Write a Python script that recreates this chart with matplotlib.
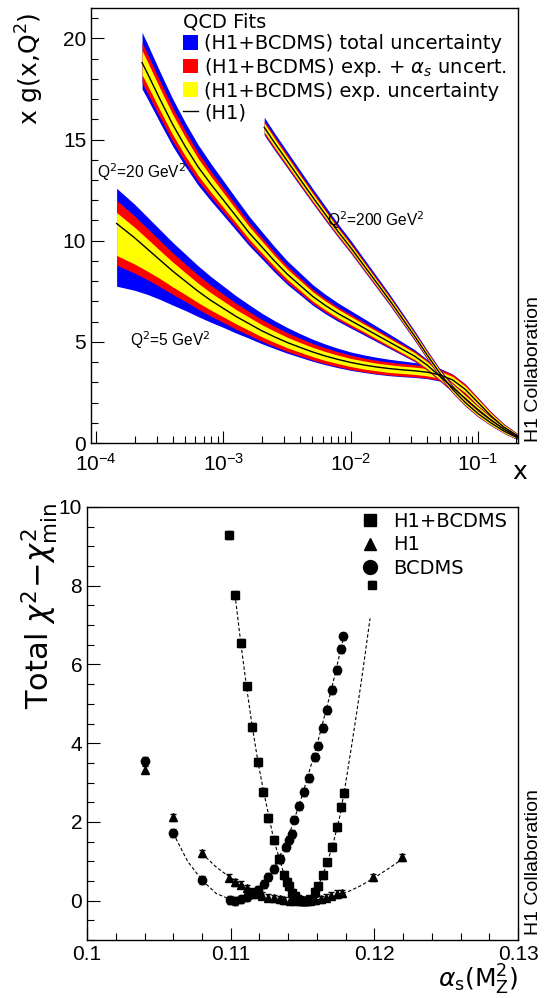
import numpy as np
import matplotlib.pyplot as plt
from matplotlib.patches import Patch
from matplotlib.lines import Line2D
from matplotlib.ticker import MultipleLocator, LogLocator, NullFormatter

plt.rcParams['font.family'] = ['Liberation Sans', 'DejaVu Sans']

# ---- top panel: x g(x,Q^2) bands, x given as log10(x) ----
q5_logx = [-3.84, -3.7, -3.6, -3.5, -3.4, -3.3, -3.2, -3.1, -3.0, -2.9, -2.8, -2.7, -2.6,
           -2.5, -2.4, -2.3, -2.2, -2.1, -2.0, -1.9, -1.8, -1.7, -1.6, -1.5, -1.4, -1.3,
           -1.2, -1.1, -1.0, -0.9, -0.8, -0.69]
q5_c = [10.85, 10.15, 9.6, 9.05, 8.5, 8.0, 7.5, 7.05, 6.65, 6.25, 5.9, 5.55, 5.25,
        4.97, 4.73, 4.5, 4.3, 4.13, 3.98, 3.86, 3.76, 3.68, 3.62, 3.57, 3.5, 3.37,
        3.12, 2.65, 2.0, 1.35, 0.8, 0.35]
q5_exp_lo = [1.58, 1.3, 1.1, 0.92, 0.78, 0.66, 0.56, 0.48, 0.42, 0.37, 0.33, 0.3, 0.28,
             0.26, 0.24, 0.23, 0.22, 0.21, 0.2, 0.2, 0.19, 0.19, 0.18, 0.18, 0.18, 0.17,
             0.17, 0.16, 0.15, 0.13, 0.11, 0.08]
q5_exp_hi = [0.54, 0.52, 0.5, 0.47, 0.45, 0.42, 0.4, 0.38, 0.36, 0.34, 0.32, 0.3, 0.28,
             0.26, 0.24, 0.23, 0.22, 0.21, 0.2, 0.2, 0.19, 0.19, 0.18, 0.18, 0.18, 0.17,
             0.17, 0.16, 0.15, 0.13, 0.11, 0.08]
q5_as_lo = [2.06, 1.75, 1.52, 1.32, 1.15, 1.0, 0.88, 0.78, 0.7, 0.63, 0.57, 0.52, 0.48,
            0.45, 0.42, 0.4, 0.38, 0.36, 0.35, 0.34, 0.33, 0.32, 0.31, 0.3, 0.29, 0.28,
            0.27, 0.25, 0.22, 0.19, 0.15, 0.11]
q5_as_hi = [1.14, 1.08, 1.02, 0.96, 0.9, 0.85, 0.8, 0.75, 0.7, 0.65, 0.6, 0.56, 0.52,
            0.48, 0.45, 0.42, 0.4, 0.38, 0.36, 0.34, 0.33, 0.32, 0.31, 0.3, 0.29, 0.28,
            0.27, 0.25, 0.22, 0.19, 0.15, 0.11]
q5_tot_lo = [3.1, 2.6, 2.25, 1.95, 1.68, 1.45, 1.25, 1.08, 0.94, 0.82, 0.72, 0.64, 0.58,
             0.53, 0.49, 0.46, 0.43, 0.41, 0.39, 0.37, 0.36, 0.35, 0.34, 0.33, 0.32, 0.31,
             0.29, 0.27, 0.24, 0.21, 0.17, 0.12]
q5_tot_hi = [1.74, 1.66, 1.58, 1.5, 1.42, 1.34, 1.26, 1.18, 1.1, 1.02, 0.94, 0.87, 0.8,
             0.74, 0.68, 0.63, 0.59, 0.55, 0.52, 0.5, 0.48, 0.46, 0.44, 0.41, 0.36, 0.32,
             0.29, 0.27, 0.24, 0.21, 0.17, 0.12]

q20_logx = [-3.64, -3.6, -3.5, -3.4, -3.3, -3.2, -3.1, -3.0, -2.9, -2.8, -2.7, -2.6, -2.5,
            -2.4, -2.3, -2.2, -2.1, -2.0, -1.9, -1.8, -1.7, -1.6, -1.5, -1.4, -1.3, -1.2,
            -1.1, -1.0, -0.9, -0.8, -0.69]
q20_c = [18.8, 18.3, 17.0, 15.75, 14.65, 13.65, 12.8, 12.0, 11.2, 10.4, 9.7, 9.0, 8.35,
         7.8, 7.25, 6.8, 6.4, 6.05, 5.7, 5.35, 5.0, 4.65, 4.3, 3.85, 3.3, 2.75,
         2.2, 1.65, 1.15, 0.7, 0.3]
q20_exp = [0.6, 0.58, 0.54, 0.5, 0.46, 0.42, 0.39, 0.36, 0.33, 0.31, 0.29, 0.27, 0.25,
           0.24, 0.23, 0.22, 0.21, 0.2, 0.19, 0.19, 0.18, 0.18, 0.17, 0.17, 0.16, 0.16,
           0.15, 0.14, 0.12, 0.1, 0.07]
q20_as = [1.0, 0.97, 0.9, 0.83, 0.76, 0.7, 0.64, 0.59, 0.54, 0.5, 0.46, 0.43, 0.4,
          0.37, 0.35, 0.33, 0.31, 0.3, 0.28, 0.27, 0.26, 0.25, 0.24, 0.23, 0.22, 0.21,
          0.2, 0.18, 0.15, 0.12, 0.09]
q20_tot_lo = [1.3, 1.26, 1.16, 1.07, 0.98, 0.9, 0.83, 0.76, 0.7, 0.64, 0.59, 0.55, 0.51,
              0.47, 0.44, 0.41, 0.39, 0.37, 0.35, 0.33, 0.31, 0.29, 0.27, 0.25, 0.24, 0.23,
              0.22, 0.2, 0.17, 0.13, 0.1]
q20_tot_hi = [1.5, 1.46, 1.36, 1.27, 1.18, 1.1, 1.02, 0.95, 0.88, 0.82, 0.76, 0.71, 0.66,
              0.62, 0.58, 0.55, 0.52, 0.49, 0.46, 0.43, 0.4, 0.36, 0.32, 0.28, 0.25, 0.23,
              0.22, 0.2, 0.17, 0.13, 0.1]

q200_logx = [-2.68, -2.6, -2.5, -2.4, -2.3, -2.2, -2.1, -2.0, -1.9, -1.8, -1.7, -1.6,
             -1.5, -1.4, -1.3, -1.2, -1.1, -1.0, -0.9, -0.8, -0.69]
q200_c = [15.6, 14.85, 13.95, 13.05, 12.16, 11.3, 10.45, 9.65, 8.8, 7.95, 7.1, 6.2,
          5.3, 4.35, 3.45, 2.65, 2.0, 1.45, 1.0, 0.6, 0.25]
q200_exp = [0.22, 0.21, 0.2, 0.19, 0.18, 0.17, 0.16, 0.15, 0.15, 0.14, 0.14, 0.14,
            0.13, 0.13, 0.13, 0.13, 0.12, 0.11, 0.1, 0.08, 0.06]
q200_as = [0.32, 0.31, 0.3, 0.28, 0.27, 0.25, 0.24, 0.23, 0.22, 0.21, 0.2, 0.19,
           0.18, 0.18, 0.17, 0.17, 0.16, 0.14, 0.12, 0.1, 0.08]
q200_tot_lo = [0.38, 0.37, 0.35, 0.33, 0.31, 0.3, 0.28, 0.27, 0.26, 0.25, 0.24, 0.23,
               0.22, 0.21, 0.2, 0.19, 0.18, 0.16, 0.14, 0.11, 0.09]
q200_tot_hi = [0.5, 0.48, 0.46, 0.44, 0.42, 0.4, 0.38, 0.36, 0.34, 0.32, 0.3, 0.28,
               0.26, 0.24, 0.22, 0.2, 0.19, 0.17, 0.14, 0.11, 0.09]

# ---- bottom panel: chi2 scans ----
comb_x = [0.10987, 0.11031, 0.1107, 0.1111, 0.1115, 0.1119, 0.11226, 0.11263, 0.11298,
          0.11336, 0.11368, 0.11392, 0.11408, 0.1143, 0.11445, 0.11461, 0.11478, 0.11496,
          0.11513, 0.1153, 0.1155, 0.11584, 0.11607, 0.11642, 0.1167, 0.11707, 0.11738,
          0.11768, 0.11787, 0.11986]
comb_y = [9.28, 7.77, 6.55, 5.44, 4.42, 3.52, 2.77, 2.1, 1.53,
          1.06, 0.66, 0.48, 0.36, 0.2, 0.12, 0.05, 0.02, 0.0,
          0.0, 0.0, 0.03, 0.21, 0.36, 0.64, 0.97, 1.37, 1.86,
          2.39, 2.73, 8.03]

h1_x = [0.104, 0.106, 0.108, 0.1099, 0.1103, 0.1107, 0.1111, 0.1115, 0.1119, 0.1122,
        0.1126, 0.1130, 0.1134, 0.1137, 0.1141, 0.1144, 0.1148, 0.1151, 0.1155, 0.1159,
        0.1163, 0.1166, 0.1170, 0.1174, 0.11775, 0.1199, 0.1219]
h1_y = [3.32, 2.12, 1.2, 0.58, 0.47, 0.4, 0.31, 0.23, 0.17, 0.12,
        0.08, 0.06, 0.03, 0.01, 0.0, 0.0, 0.0, 0.0, 0.0, 0.01,
        0.03, 0.07, 0.12, 0.17, 0.19, 0.59, 1.1]

bcdms_x = [0.104, 0.106, 0.108, 0.10992, 0.1103, 0.1107, 0.1111, 0.1115, 0.1119, 0.1123,
           0.1126, 0.1130, 0.1134, 0.11385, 0.11408, 0.11424, 0.11438, 0.11475, 0.1151,
           0.11542, 0.11589, 0.11607, 0.11642, 0.11672, 0.11707, 0.11738, 0.1177, 0.11784]
bcdms_y = [3.55, 1.71, 0.52, 0.02, 0.0, 0.03, 0.09, 0.18, 0.28, 0.42,
           0.61, 0.81, 1.06, 1.36, 1.55, 1.69, 2.06, 2.4, 2.76,
           3.12, 3.65, 3.94, 4.38, 4.85, 5.34, 5.86, 6.39, 6.71]

fit_comb_x = [0.1103, 0.1107, 0.1111, 0.1115, 0.1119, 0.1123, 0.1127, 0.1130, 0.1134, 0.1137,
              0.1141, 0.1144, 0.1148, 0.1152, 0.1156, 0.1160, 0.1164, 0.1168, 0.1172, 0.1176,
              0.1180, 0.1184, 0.1188, 0.1192, 0.1197]
fit_comb_y = [7.77, 6.55, 5.44, 4.42, 3.52, 2.75, 2.08, 1.53, 1.06, 0.68,
              0.38, 0.16, 0.03, 0.0, 0.06, 0.3, 0.64, 1.05, 1.55, 2.15,
              2.98, 3.9, 4.85, 5.85, 7.17]
fit_h1_x = [0.108, 0.109, 0.110, 0.111, 0.112, 0.113, 0.114, 0.115, 0.116, 0.117,
            0.118, 0.119, 0.120, 0.121, 0.122]
fit_h1_y = [1.2, 0.85, 0.58, 0.37, 0.2, 0.08, 0.02, 0.0, 0.02, 0.08,
            0.2, 0.37, 0.58, 0.82, 1.07]
fit_bcdms_x = [0.106, 0.107, 0.108, 0.109, 0.110, 0.1104, 0.111, 0.112, 0.113, 0.114,
               0.115, 0.116, 0.117, 0.1178]
fit_bcdms_y = [1.71, 1.0, 0.52, 0.18, 0.03, 0.0, 0.07, 0.3, 0.8, 1.6,
               2.7, 3.95, 5.35, 6.6]

BLUE, RED, YEL = '#0000ff', '#ff0000', '#ffff00'

fig = plt.figure(figsize=(5.44, 9.98), dpi=100)
ax1 = fig.add_axes([0.1673, 0.5561, 0.7849, 0.4359])
ax2 = fig.add_axes([0.16, 0.0581, 0.7923, 0.4339])


def draw_band(ax, logx, c, exp_lo, exp_hi, as_lo, as_hi, tot_lo, tot_hi):
    x = 10 ** np.asarray(logx)
    c = np.asarray(c)
    ax.fill_between(x, c - np.asarray(tot_lo), c + np.asarray(tot_hi), color=BLUE, lw=0)
    ax.fill_between(x, c - np.asarray(as_lo), c + np.asarray(as_hi), color=RED, lw=0)
    ax.fill_between(x, c - np.asarray(exp_lo), c + np.asarray(exp_hi), color=YEL, lw=0)
    ax.plot(x, c, color='black', lw=1.0)


draw_band(ax1, q5_logx, q5_c, q5_exp_lo, q5_exp_hi, q5_as_lo, q5_as_hi, q5_tot_lo, q5_tot_hi)
draw_band(ax1, q20_logx, q20_c, q20_exp, q20_exp, q20_as, q20_as, q20_tot_lo, q20_tot_hi)
draw_band(ax1, q200_logx, q200_c, q200_exp, q200_exp, q200_as, q200_as, q200_tot_lo, q200_tot_hi)

ax1.set_xscale('log')
ax1.set_xlim(9.1e-5, 0.206)
ax1.set_ylim(0, 21.5)
ax1.yaxis.set_major_locator(MultipleLocator(5))
ax1.yaxis.set_minor_locator(MultipleLocator(1))
ax1.xaxis.set_major_locator(LogLocator(base=10, numticks=10))
ax1.xaxis.set_minor_locator(LogLocator(base=10, subs=np.arange(2, 10), numticks=20))
ax1.xaxis.set_minor_formatter(NullFormatter())

ax1.text(1.02e-4, 13.4, r'Q$^2$=20 GeV$^2$', fontsize=11.2, va='center')
ax1.text(1.85e-4, 5.1, r'Q$^2$=5 GeV$^2$', fontsize=11.2, va='center')
ax1.text(6.5e-3, 11.0, r'Q$^2$=200 GeV$^2$', fontsize=11.2, va='center')

handles = [Patch(facecolor=BLUE, edgecolor='none'),
           Patch(facecolor=RED, edgecolor='none'),
           Patch(facecolor=YEL, edgecolor='none'),
           Line2D([], [], color='black', lw=1)]
labels = ['(H1+BCDMS) total uncertainty',
          r'(H1+BCDMS) exp. + $\alpha_s$ uncert.',
          '(H1+BCDMS) exp. uncertainty',
          '(H1)']
leg = ax1.legend(handles, labels, title='QCD Fits', loc='upper left',
                 bbox_to_anchor=(0.215, 0.99), frameon=False,
                 prop={'family': 'DejaVu Sans', 'size': 14},
                 title_fontproperties={'family': 'DejaVu Sans', 'size': 14},
                 handlelength=0.8, handleheight=0.8,
                 handletextpad=0.3, labelspacing=0.14, borderpad=0,
                 borderaxespad=0, alignment='left')

# ---- bottom ----
ax2.plot(fit_comb_x, fit_comb_y, ls=(0, (3, 2)), color='black', lw=0.8)
ax2.plot(fit_h1_x, fit_h1_y, ls=(0, (3, 2)), color='black', lw=0.8)
ax2.plot(fit_bcdms_x, fit_bcdms_y, ls=(0, (3, 2)), color='black', lw=0.8)

eb = dict(color='black', ls='none', capsize=2.3, elinewidth=1, capthick=1)
ax2.errorbar(h1_x, h1_y, yerr=0.09, marker='^', ms=5.5, **eb)
ax2.errorbar(bcdms_x, bcdms_y, yerr=0.1, marker='o', ms=6, **eb)
ax2.errorbar(comb_x, comb_y, yerr=0.1, marker='s', ms=6, **eb)

ax2.set_xlim(0.1, 0.13)
ax2.set_ylim(-1, 10)
ax2.set_xticks([0.1, 0.11, 0.12, 0.13], labels=['0.1', '0.11', '0.12', '0.13'])
ax2.xaxis.set_minor_locator(MultipleLocator(0.002))
ax2.yaxis.set_major_locator(MultipleLocator(2))
ax2.yaxis.set_minor_locator(MultipleLocator(0.5))

leg_handles = [Line2D([], [], ls='none', marker='s', color='black', ms=9),
               Line2D([], [], ls='none', marker='^', color='black', ms=8),
               Line2D([], [], ls='none', marker='o', color='black', ms=10)]
ax2.legend(leg_handles, ['H1+BCDMS', 'H1', 'BCDMS'], loc='upper left',
           bbox_to_anchor=(0.63, 0.988), frameon=False,
           prop={'family': 'DejaVu Sans', 'size': 14},
           handlelength=1.2, handletextpad=0.6, labelspacing=0.22,
           borderpad=0, borderaxespad=0)

for ax in (ax1, ax2):
    ax.tick_params(which='both', direction='in', top=False, right=False,
                   labelsize=15, width=0.8)
    ax.tick_params(which='major', length=9)
    ax.tick_params(which='minor', length=5)
    for s in ax.spines.values():
        s.set_linewidth(1.0)
ax1.tick_params(axis='x', pad=7)

fig.text(30 / 544, 1 - 13 / 998, r'x g(x,Q$^2$)', rotation=90, ha='center', va='top',
         fontsize=18, family='DejaVu Sans')
fig.text(520 / 544, 1 - 472 / 998, 'x', ha='center', va='center', fontsize=18,
         family='DejaVu Sans')
fig.text(40 / 544, 1 - 503 / 998, r'Total $\chi^2\!-\!\chi^2_{\rm min}$', rotation=90,
         ha='center', va='top', fontsize=22, family='DejaVu Sans')
fig.text(518 / 544, 1 - 980 / 998, r'$\alpha_{\rm s}$(M$_{\rm Z}^{2}$)', ha='right',
         va='center', fontsize=18, family='DejaVu Sans')
fig.text(533 / 544, 1 - 442 / 998, 'H1 Collaboration', rotation=90, ha='center',
         va='bottom', fontsize=14)
fig.text(533 / 544, 1 - 935 / 998, 'H1 Collaboration', rotation=90, ha='center',
         va='bottom', fontsize=14)

fig.savefig('out.png', dpi=100)
